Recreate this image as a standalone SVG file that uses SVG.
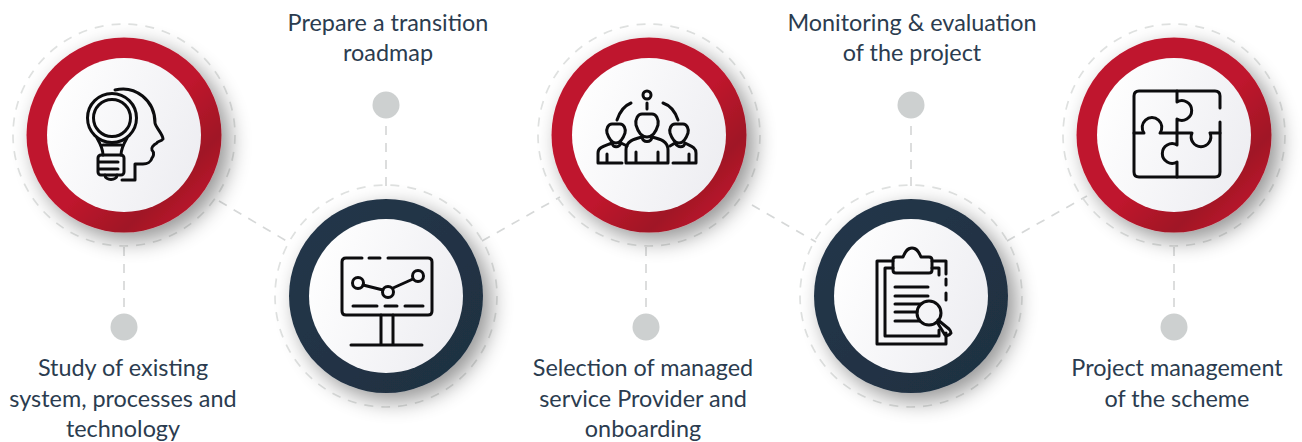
<svg xmlns="http://www.w3.org/2000/svg" width="1302" height="442" viewBox="0 0 1302 442">
<style>
.halo{fill:none;stroke:#dfe1e0;stroke-width:1.7;stroke-dasharray:9 8}
.con{fill:none;stroke:#d6d8d8;stroke-width:1.7;stroke-dasharray:9 8}
.dot{fill:#cdd0d0}
.t{font-family:"Lato","Liberation Sans",sans-serif;font-size:23.4px;fill:#2b3c4f;text-anchor:middle}
.ic{fill:none;stroke:#0c0c0e;stroke-width:3;stroke-linecap:round;stroke-linejoin:round}
.in{fill:url(#w)}
</style>
<defs>
<linearGradient id="r" x1="0.15" y1="0.15" x2="0.85" y2="0.85"><stop offset="0.55" stop-color="#bf152d"/><stop offset="0.85" stop-color="#a01325"/><stop offset="1" stop-color="#b5152b"/></linearGradient>
<linearGradient id="n" x1="0.15" y1="0.15" x2="0.85" y2="0.85"><stop offset="0" stop-color="#243648"/><stop offset="1" stop-color="#1f3042"/></linearGradient>
<linearGradient id="w" x1="0" y1="0.2" x2="1" y2="0.6"><stop offset="0" stop-color="#ffffff"/><stop offset="1" stop-color="#eeeef2"/></linearGradient>
<filter id="s" x="-30%" y="-30%" width="170%" height="170%"><feGaussianBlur in="SourceAlpha" stdDeviation="11"/><feOffset dx="8" dy="8"/><feComponentTransfer><feFuncA type="linear" slope="0.42"/></feComponentTransfer><feMerge><feMergeNode/><feMergeNode in="SourceGraphic"/></feMerge></filter>
</defs>
<g id="connectors">
<path class="con" d="M219 201L290 243"/>
<path class="con" d="M482 241L560 197"/>
<path class="con" d="M752 205L816 242"/>
<path class="con" d="M1007 241L1087 196"/>
<path class="con" d="M124 247V318"/>
<path class="con" d="M386 186V118"/>
<path class="con" d="M646 247V318"/>
<path class="con" d="M911 186V118"/>
<path class="con" d="M1174 247V318"/>
</g>
<g id="node1">
<circle class="halo" cx="124" cy="135" r="111"/>
<circle cx="124" cy="135" r="97.500" fill="url(#r)" filter="url(#s)"/>
<circle class="in" cx="124" cy="135" r="77"/>
<g class="ic">
<circle cx="112" cy="118" r="24.500"/><circle cx="112" cy="118" r="18.500"/>
<path d="M97 138C101 145 103 150 103 155M127 138C123 145 121 150 121 155M103 145H121"/>
<rect x="98" y="155" width="26" height="20" rx="3"/>
<path d="M99 162H118M99 169H118M105 175C105 181 117 181 117 175"/>
<path d="M115 90C135 85 155 100 155 123C156 128 163 134 163 139C161 142 157 141 157 143C153 145 151 148 152 150C155 153 153 157 152 158C151 162 147 164 143 164H135V180H122"/>
</g>
<circle class="dot" cx="124" cy="327" r="13.500"/>
<text class="t" x="123" y="376">Study of existing</text>
<text class="t" x="123" y="407">system, processes and</text>
<text class="t" x="123" y="437">technology</text>
</g>
<g id="node2">
<circle class="halo" cx="386" cy="296" r="111"/>
<circle cx="386" cy="296" r="97" fill="url(#n)" filter="url(#s)"/>
<circle class="in" cx="386" cy="296" r="77"/>
<g class="ic">
<path d="M362 258H346Q342 258 342 262V311Q342 315 346 315H428Q432 315 432 311V262Q432 258 428 258H388M369 258H380"/>
<path d="M353 306H377M385 306H397M405 306H423"/>
<circle cx="358" cy="283" r="5.500"/><circle cx="388" cy="292" r="5.500"/><circle cx="418" cy="276" r="5.500"/>
<path d="M363 285L383 290M393 288L413 279"/>
<path d="M381 315V345M393 315V345M351 345H422"/>
</g>
<circle class="dot" cx="386" cy="105" r="13.500"/>
<text class="t" x="388" y="31">Prepare a transition</text>
<text class="t" x="388" y="61">roadmap</text>
</g>
<g id="node3">
<circle class="halo" cx="649" cy="135" r="111"/>
<circle cx="649" cy="135" r="97.500" fill="url(#r)" filter="url(#s)"/>
<circle class="in" cx="649" cy="135" r="77"/>
<g class="ic">
<circle cx="647" cy="95" r="4"/>
<path d="M647 103V109M617 120C620 111 626 105 631 103M678 120C675 111 669 105 663 103"/>
<path d="M642 114H652C656 114 659 119 658 125C656 132 652 137 647 137C642 137 638 132 636 125C635 119 638 114 642 114Z"/>
<path d="M626 163V150C626 141 634 139 642 137M668 163V150C668 141 660 139 652 137M642 137C643 143 651 143 652 137M626 163H668M636 152V163M658 152V163"/>
<path d="M612 124H620C624 124 626 129 625 133C623 139 620 143 616 143C612 143 609 139 607 133C606 129 608 124 612 124Z"/>
<path d="M622 163H598V153C598 147 605 146 612 143C613 148 619 148 621 143L627 146M607 154V163"/>
<path d="M675 124H683C687 124 689 129 688 133C686 139 683 143 679 143C675 143 672 139 670 133C669 129 671 124 675 124Z"/>
<path d="M673 163H696V153C696 147 690 146 685 143C684 148 678 148 675 143L670 146M689 154V163"/>
</g>
<circle class="dot" cx="646" cy="327" r="13.500"/>
<text class="t" x="643" y="376">Selection of managed</text>
<text class="t" x="643" y="407">service Provider and</text>
<text class="t" x="643" y="437">onboarding</text>
</g>
<g id="node4">
<circle class="halo" cx="911" cy="296" r="111"/>
<circle cx="911" cy="296" r="97" fill="url(#n)" filter="url(#s)"/>
<circle class="in" cx="911" cy="296" r="77"/>
<g class="ic">
<path d="M893 261H877V344H946V333M946 300V293M946 285V279M946 274V261H932"/>
<path d="M893 268H885V336H939V330M932 268H939V275"/>
<path d="M896 273Q893 273 893 270V260Q893 257 896 257H903C905 252 907 248 912 248C917 248 919 252 921 257H929Q932 257 932 260V270Q932 273 929 273Z"/>
<path d="M895 287H928M895 296H928M895 304H921M895 312H917M895 321H920"/>
<circle cx="929" cy="313" r="12"/>
<path d="M937 322L945 335Q948 337 951 333Q951 331 949 329L938 320"/>
</g>
<circle class="dot" cx="911" cy="105" r="13.500"/>
<text class="t" x="912" y="31">Monitoring &amp; evaluation</text>
<text class="t" x="912" y="61">of the project</text>
</g>
<g id="node5">
<circle class="halo" cx="1174" cy="135" r="111"/>
<circle cx="1174" cy="135" r="97.500" fill="url(#r)" filter="url(#s)"/>
<circle class="in" cx="1174" cy="135" r="77"/>
<g class="ic">
<path d="M1220 108V96Q1220 91 1215 91H1139Q1134 91 1134 96V172Q1134 177 1139 177H1215Q1220 177 1220 172V122"/>
<path d="M1177 91V102A9.800 9.800 0 1 1 1177 119V145A9.800 9.800 0 1 0 1177 162V177"/>
<path d="M1134 133H1144A9.800 9.800 0 1 1 1160 133H1192A9.800 9.800 0 1 0 1210 133H1220"/>
</g>
<circle class="dot" cx="1174" cy="327" r="13.500"/>
<text class="t" x="1177" y="376">Project management</text>
<text class="t" x="1177" y="407">of the scheme</text>
</g>
</svg>
